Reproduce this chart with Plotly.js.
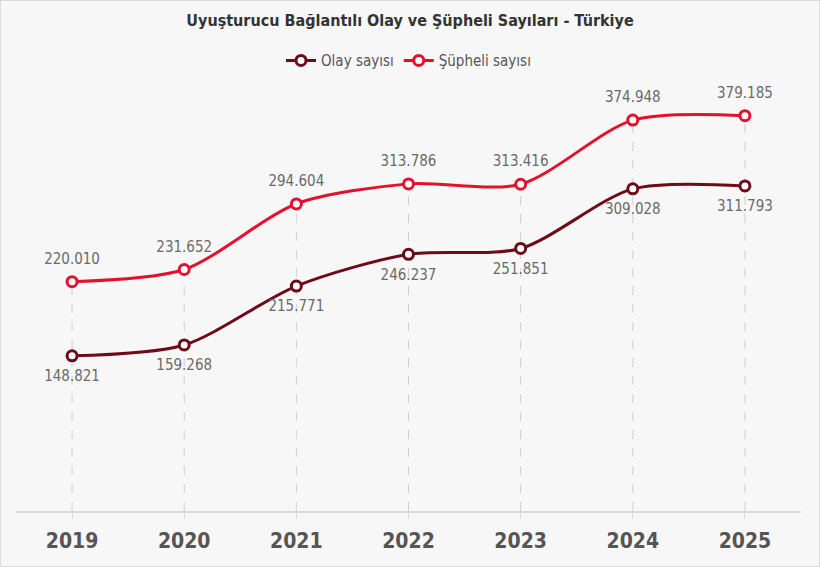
<!DOCTYPE html>
<html>
<head>
<meta charset="utf-8">
<script src="https://cdn.plot.ly/plotly-3.0.1.min.js"></script>
<style>
  html, body { margin: 0; padding: 0; background: #fff; }
  #chart { width: 818px; height: 565px; border: 1px solid #dcdcdc; }
</style>
</head>
<body>
<div id="chart"></div>
<script>
// Chart data.
const years = ['2019', '2020', '2021', '2022', '2023', '2024', '2025'];
const olayValues = [148821, 159268, 215771, 246237, 251851, 309028, 311793];
const suphelValues = [220010, 231652, 294604, 313786, 313416, 374948, 379185];

const olayColor = '#6e0b19';
const suphelColor = '#e2122f';
const condensed = '"Liberation Sans Narrow", "DejaVu Sans Condensed", Roboto, sans-serif';

// Dashed drop lines from the upper point down to the axis.
const dropX = [];
const dropY = [];
for (var i = 0; i < years.length; i++) {
  dropX.push(years[i], years[i], null);
  dropY.push(0, suphelValues[i], null);
}

// Value labels sit on invisible, larger markers so they get more offset.
function labelTrace(values, position) {
  return {
    x: years,
    y: values,
    mode: 'markers+text',
    marker: {size: 21, opacity: 0},
    texttemplate: '%{y:,}',
    textposition: position,
    textfont: {family: condensed, size: 15, color: '#6a6a6a'},
    cliponaxis: false,
    hoverinfo: 'skip',
    showlegend: false
  };
}

const data = [
  {
    x: dropX,
    y: dropY,
    mode: 'lines',
    line: {color: '#cfcfcf', width: 1, dash: 'dash'},
    hoverinfo: 'skip',
    showlegend: false
  },
  {
    x: years,
    y: olayValues,
    name: 'Olay sayısı',
    mode: 'lines+markers',
    line: {color: olayColor, width: 3, shape: 'spline', smoothing: 0.8},
    marker: {size: 10, color: '#ffffff', line: {color: olayColor, width: 3}},
    cliponaxis: false
  },
  {
    x: years,
    y: suphelValues,
    name: 'Şüpheli sayısı',
    mode: 'lines+markers',
    line: {color: suphelColor, width: 3, shape: 'spline', smoothing: 0.8},
    marker: {size: 10, color: '#ffffff', line: {color: suphelColor, width: 3}},
    cliponaxis: false
  },
  labelTrace(olayValues, 'bottom center'),
  labelTrace(suphelValues, 'top center')
];

const layout = {
  width: 818,
  height: 565,
  paper_bgcolor: '#f7f7f7',
  plot_bgcolor: '#f7f7f7',
  separators: ',.',
  margin: {l: 15, r: 18, t: 93, b: 55},
  font: {family: condensed, color: '#444'},
  title: {
    text: '<b>Uyuşturucu Bağlantılı Olay ve Şüpheli Sayıları - Türkiye</b>',
    font: {family: condensed, size: 16, color: '#333'},
    x: 0.5,
    xanchor: 'center',
    y: 0.965,
    yanchor: 'middle'
  },
  showlegend: true,
  legend: {
    orientation: 'h',
    x: 0.5,
    xanchor: 'center',
    y: 1.08,
    yanchor: 'middle',
    font: {family: condensed, size: 15, color: '#555'},
    itemwidth: 30,
    traceorder: 'normal'
  },
  xaxis: {
    type: 'category',
    range: [-0.5, 6.5],
    showgrid: false,
    zeroline: false,
    showline: true,
    linecolor: '#d9d9d9',
    linewidth: 2,
    ticks: 'outside',
    ticklen: 6,
    tickcolor: '#d9d9d9',
    ticklabelstandoff: 4,
    tickfont: {family: condensed, size: 21, color: '#555'}
  },
  yaxis: {
    range: [0, 400000],
    visible: false,
    showgrid: false,
    zeroline: false
  }
};

// Make tick labels bold.
layout.xaxis.tickvals = years;
layout.xaxis.ticktext = years.map(function (y) { return '<b>' + y + '</b>'; });

Plotly.newPlot('chart', data, layout, {displayModeBar: false});
</script>
</body>
</html>
